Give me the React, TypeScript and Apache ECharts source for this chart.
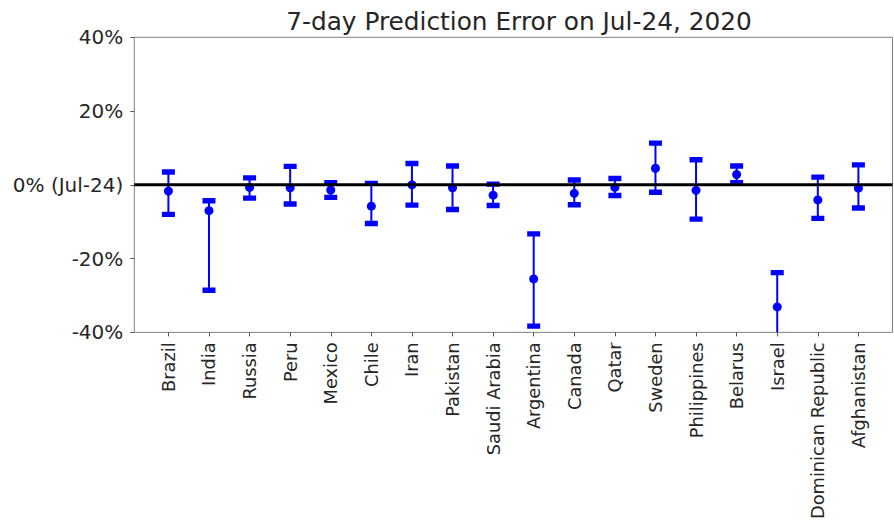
import React, { useEffect, useRef } from "react";
import * as echarts from "echarts";

const countries = [
  "Brazil", "India", "Russia", "Peru", "Mexico", "Chile", "Iran", "Pakistan",
  "Saudi Arabia", "Argentina", "Canada", "Qatar", "Sweden", "Philippines",
  "Belarus", "Israel", "Dominican Republic", "Afghanistan",
];
const upperErr = [3.5, -4.3, 1.9, 5.0, 0.6, 0.4, 5.8, 5.1, 0.2, -13.3, 1.3, 1.7, 11.3, 6.8, 5.1, -23.8, 2.1, 5.4];
const centerErr = [-1.7, -7.0, -0.7, -0.8, -1.4, -5.8, 0.0, -0.8, -2.8, -25.5, -2.3, -0.7, 4.5, -1.5, 2.8, -33.1, -4.1, -0.9];
const lowerErr = [-8.0, -28.6, -3.6, -5.2, -3.4, -10.5, -5.5, -6.7, -5.6, -38.3, -5.4, -2.9, -2.0, -9.3, 0.6, -48.0, -9.1, -6.3];

const BLUE = "#0000ff";
const FONT = "DejaVu Sans";
const TEXT = "#262626";

export default function App() {
  const ref = useRef<HTMLDivElement>(null);
  useEffect(() => {
    document.body.style.margin = "0";
    const chart = echarts.init(ref.current!, null, { renderer: "svg" });
    const idx = countries.map((_, i) => i);
    chart.setOption({
      animation: false,
      backgroundColor: "#ffffff",
      title: {
        text: "7-day Prediction Error on Jul-24, 2020",
        left: 514,
        textAlign: "center",
        top: 4,
        textStyle: { fontFamily: FONT, fontSize: 24.8, fontWeight: "normal", color: TEXT },
      },
      grid: {
        left: 134.3,
        top: 37.3,
        right: 1.5,
        bottom: 189.3,
        show: true,
        borderColor: "#808080",
        borderWidth: 1,
      },
      xAxis: {
        type: "value",
        min: -0.84,
        max: 17.84,
        splitLine: { show: false },
        axisLine: { show: false, onZero: false },
        axisTick: {
          show: true,
          customValues: idx,
          length: 4,
          lineStyle: { color: "#555" },
        },
        axisLabel: {
          customValues: idx,
          rotate: 90,
          margin: 10,
          fontFamily: FONT,
          fontSize: 17.8,
          color: TEXT,
          formatter: (v: number) => countries[Math.round(v)] ?? "",
        },
      },
      yAxis: {
        type: "value",
        min: -40,
        max: 40,
        interval: 20,
        splitLine: { show: false },
        axisLine: { show: false, onZero: false },
        axisTick: { show: true, length: 4, lineStyle: { color: "#555" } },
        axisLabel: {
          margin: 11,
          fontFamily: FONT,
          fontSize: 20,
          color: TEXT,
          formatter: (v: number) => (v === 0 ? "0% (Jul-24)" : `${v}%`),
        },
      },
      series: [
        {
          type: "custom",
          clip: true,
          z: 2,
          data: idx.map((i) => [i, lowerErr[i], centerErr[i], upperErr[i]]),
          renderItem: (params: any, api: any) => {
            const x = api.value(0);
            const lo = api.coord([x, api.value(1)]);
            const c = api.coord([x, api.value(2)]);
            const hi = api.coord([x, api.value(3)]);
            const cw = 13;
            const ch = 5.4;
            return {
              type: "group",
              children: [
                {
                  type: "line",
                  shape: { x1: lo[0], y1: lo[1], x2: hi[0], y2: hi[1] },
                  style: { stroke: BLUE, lineWidth: 2 },
                },
                {
                  type: "rect",
                  shape: { x: hi[0] - cw / 2, y: hi[1] - ch / 2, width: cw, height: ch },
                  style: { fill: BLUE },
                },
                {
                  type: "rect",
                  shape: { x: lo[0] - cw / 2, y: lo[1] - ch / 2, width: cw, height: ch },
                  style: { fill: BLUE },
                },
                {
                  type: "circle",
                  shape: { cx: c[0], cy: c[1], r: 4.5 },
                  style: { fill: BLUE },
                },
              ],
            };
          },
        },
        {
          type: "line",
          z: 5,
          symbol: "none",
          silent: true,
          data: [[-0.84, 0], [17.84, 0]],
          lineStyle: { color: "#000", width: 3 },
        },
      ],
    });
    return () => chart.dispose();
  }, []);
  return <div ref={ref} style={{ width: 894, height: 522 }} />;
}
